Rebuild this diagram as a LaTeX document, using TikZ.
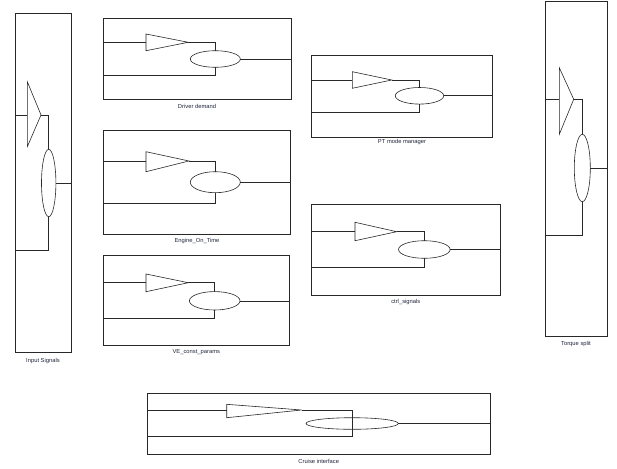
\documentclass[tikz,border=0pt]{standalone}
\usepackage{fontspec}
\setmainfont{Liberation Sans}
\usetikzlibrary{shapes.geometric}
\definecolor{lblc}{RGB}{30,38,58}
\definecolor{linec}{RGB}{40,40,40}
\tikzset{
  box/.style={draw=linec, line width=0.6pt},
  wire/.style={draw=linec, line width=0.6pt},
  sumnode/.style={ellipse, draw=linec, line width=0.6pt, inner sep=0pt, outer sep=0pt},
  lbl/.style={font=\fontsize{5.8}{6.5}\selectfont, text=lblc, inner sep=0pt}
}
\begin{document}
\begin{tikzpicture}[x=1pt,y=-1pt]
\useasboundingbox (0,0) rectangle (617,468);
% ---------- Input Signals ----------
\draw[box] (15,13.3) rectangle (71,352.7);
\coordinate (t1b1) at (27.3,81.7); \coordinate (t1b2) at (27.3,146.7); \coordinate (t1a) at (41,115);
\draw[box] (t1b1) -- (t1a) -- (t1b2) -- cycle;
\node[sumnode, minimum width=14.4pt, minimum height=67.4pt] (e1) at (48.7,183) {};
\draw[wire] (15,115) -- (27.3,115);
\draw[wire] (t1a) -- (48.7,115) -- (e1.north);
\draw[wire] (e1.east) -- (71,183);
\draw[wire] (e1.south) -- (48.7,250) -- (15,250);
\node[lbl] (l1) at (43,360.5) {Input Signals};
% ---------- Driver demand ----------
\draw[box] (103.3,18.3) rectangle (291,99.3);
\coordinate (t2b1) at (146,34); \coordinate (t2b2) at (146,50.7); \coordinate (t2a) at (188.3,42.3);
\draw[box] (t2b1) -- (t2a) -- (t2b2) -- cycle;
\node[sumnode, minimum width=50pt, minimum height=16.6pt] (e2) at (215.3,59) {};
\draw[wire] (103.3,42.3) -- (146,42.3);
\draw[wire] (t2a) -- (215.3,42.3) -- (e2.north);
\draw[wire] (e2.east) -- (291,59);
\draw[wire] (e2.south) -- (215.3,75.3) -- (103.3,75.3);
\node[lbl] (l2) at (197,106) {Driver demand};
% ---------- PT mode manager ----------
\draw[box] (311.7,55) rectangle (492.3,137.3);
\coordinate (t3b1) at (352.3,71.7); \coordinate (t3b2) at (352.3,88.3); \coordinate (t3a) at (391.7,80);
\draw[box] (t3b1) -- (t3a) -- (t3b2) -- cycle;
\node[sumnode, minimum width=48.4pt, minimum height=16.6pt] (e3) at (419.5,95.8) {};
\draw[wire] (311.7,80) -- (352.3,80);
\draw[wire] (t3a) -- (419.5,80) -- (e3.north);
\draw[wire] (e3.east) -- (492.3,95.8);
\draw[wire] (e3.south) -- (419.5,112.3) -- (311.7,112.3);
\node[lbl] (l3) at (402,141.5) {PT mode manager};
% ---------- Torque split ----------
\draw[box] (545,1.5) rectangle (607.7,336);
\coordinate (t4b1) at (559.3,67.7); \coordinate (t4b2) at (559.3,134.3); \coordinate (t4a) at (573.7,99.3);
\draw[box] (t4b1) -- (t4a) -- (t4b2) -- cycle;
\node[sumnode, minimum width=16pt, minimum height=67.4pt] (e4) at (582.3,168) {};
\draw[wire] (545,99.3) -- (559.3,99.3);
\draw[wire] (t4a) -- (582.3,99.3) -- (e4.north);
\draw[wire] (e4.east) -- (607.7,168);
\draw[wire] (e4.south) -- (582.3,235) -- (545,235);
\node[lbl] (l4) at (576,344) {Torque split};
% ---------- Engine_On_Time ----------
\draw[box] (103.3,130.7) rectangle (290.7,234.3);
\coordinate (t5b1) at (146,151.7); \coordinate (t5b2) at (146,171.7); \coordinate (t5a) at (189,161);
\draw[box] (t5b1) -- (t5a) -- (t5b2) -- cycle;
\node[sumnode, minimum width=50pt, minimum height=21pt] (e5) at (215.3,182.2) {};
\draw[wire] (103.3,161) -- (146,161);
\draw[wire] (t5a) -- (215.3,161) -- (e5.north);
\draw[wire] (e5.east) -- (290.7,182.2);
\draw[wire] (e5.south) -- (215.3,203.3) -- (103.3,203.3);
\node[lbl] (l5) at (197,241) {Engine\_On\_Time};
% ---------- VE_const_params ----------
\draw[box] (103.3,255.7) rectangle (289.3,345);
\coordinate (t6b1) at (146,274); \coordinate (t6b2) at (146,291.7); \coordinate (t6a) at (188.3,282.7);
\draw[box] (t6b1) -- (t6a) -- (t6b2) -- cycle;
\node[sumnode, minimum width=50.6pt, minimum height=18.4pt] (e6) at (214.7,300.8) {};
\draw[wire] (103.3,282.7) -- (146,282.7);
\draw[wire] (t6a) -- (214.7,282.7) -- (e6.north);
\draw[wire] (e6.east) -- (289.3,300.8);
\draw[wire] (e6.south) -- (214.7,318.7) -- (103.3,318.7);
\node[lbl] (l6) at (196.3,352) {VE\_const\_params};
% ---------- ctrl_signals ----------
\draw[box] (311.7,204) rectangle (500,295);
\coordinate (t7b1) at (355,222.3); \coordinate (t7b2) at (355,240.7); \coordinate (t7a) at (396.7,231.7);
\draw[box] (t7b1) -- (t7a) -- (t7b2) -- cycle;
\node[sumnode, minimum width=51.6pt, minimum height=17.6pt] (e7) at (424.3,249.5) {};
\draw[wire] (311.7,231.7) -- (355,231.7);
\draw[wire] (t7a) -- (424.3,231.7) -- (e7.north);
\draw[wire] (e7.east) -- (500,249.5);
\draw[wire] (e7.south) -- (424.3,267) -- (311.7,267);
\node[lbl] (l7) at (405.8,301.5) {ctrl\_signals};
% ---------- Cruise interface ----------
\draw[box] (147.3,393.3) rectangle (490,454);
\coordinate (t8b1) at (226.7,404.3); \coordinate (t8b2) at (226.7,417.7); \coordinate (t8a) at (301.7,410);
\draw[box] (t8b1) -- (t8a) -- (t8b2) -- cycle;
\node[sumnode, minimum width=92.4pt, minimum height=11.6pt] (e8) at (352.2,423.5) {};
\draw[wire] (147.3,410) -- (226.7,410);
\draw[wire] (t8a) -- (352.7,410) -- (352.7,436) -- (147.3,436);
\draw[wire] (e8.east) -- (490,423.5);
\node[lbl] (l8) at (318.7,461) {Cruise interface};
\end{tikzpicture}
\end{document}
